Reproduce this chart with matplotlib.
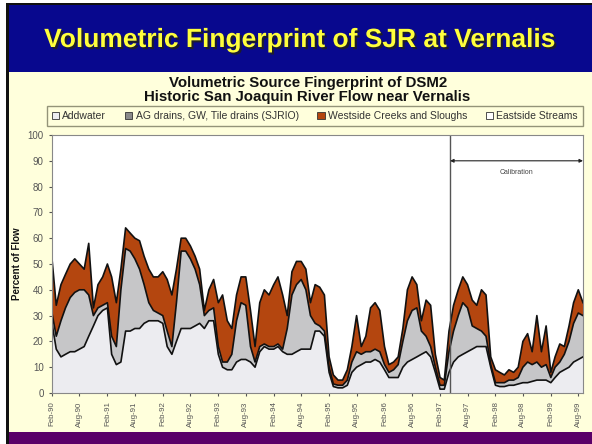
import numpy as np
import pandas as pd
import matplotlib.pyplot as plt
import matplotlib.dates as mdates
import matplotlib.patheffects as pe
from matplotlib.patches import Rectangle, Patch

plt.rcParams['font.family'] = ['Liberation Sans', 'DejaVu Sans']

# monthly values, Feb-1990 .. Sep-1999 (percent of flow)
months = pd.date_range('1990-02-01', '1999-09-01', freq='MS')

addwater = [27, 17, 14, 15, 16, 16, 17, 18, 22, 26, 30, 32,
            33, 15, 11, 12, 24, 24, 25, 25, 27, 28, 28, 28,
            27, 18, 15, 20, 25, 25, 25, 26, 27, 25, 28, 28,
            15, 10, 9, 9, 12, 13, 13, 12, 10, 16, 18, 17,
            17, 18, 16, 15, 15, 16, 17, 17, 17, 24, 24, 22,
            8, 2.5, 2, 2, 3, 8, 10, 11, 12, 12, 13, 12,
            9, 6, 6, 6, 10, 12, 13, 14, 15, 16, 14, 8,
            1.5, 1.5, 8, 12, 14, 15, 16, 17, 18, 18, 18, 10,
            3, 2.5, 2.5, 3, 3, 3.5, 4, 4, 4.5, 5, 5, 5,
            4, 6, 8, 9, 10, 12, 13, 14]
ag_drains = [4, 5, 14, 18, 21, 23, 23, 22, 16, 4, 3, 2,
             2, 7, 7, 28, 32, 31, 27, 23, 15, 7, 4, 3,
             3, 6, 3, 15, 30, 30, 27, 22, 15, 5, 4, 5,
             3, 2, 3, 6, 16, 22, 21, 6, 2, 2, 1, 1,
             1, 1, 1, 10, 23, 26, 27, 23, 13, 3, 2, 2,
             2, 1, 1, 1, 2, 4, 6, 4, 4, 4, 4, 4,
             2, 2, 3, 5, 10, 16, 19, 19, 9, 6, 4, 2,
             1.5, 1.5, 8, 12, 16, 20, 17, 9, 7, 6, 4, 1,
             1, 1.5, 1.5, 2, 2, 2.5, 6, 8, 6.5, 7, 5, 6,
             2, 4, 4, 6, 10, 15, 18, 16]
westside = [21, 12, 14, 13, 13, 13, 10, 8, 20, 3, 9, 11,
            15, 23, 17, 8, 8, 7, 8, 11, 11, 13, 13, 14,
            17, 20, 20, 13, 5, 5, 5, 5, 6, 2, 8, 11,
            17, 26, 16, 10, 10, 10, 11, 14, 6, 17, 21, 20,
            24, 26, 21, 5, 9, 9, 7, 8, 5, 15, 15, 14,
            4, 3.5, 2, 2, 4, 6, 14, 3, 6, 17, 18, 16,
            7, 3, 3, 3, 5, 12, 13, 9, 4, 14, 16, 5,
            3, 2, 8, 10, 10, 10, 9, 10, 9, 16, 16, 3,
            5, 4, 3, 4, 3, 4, 10, 11, 5, 18, 6, 15,
            2, 4, 7, 3, 6, 8, 9, 5]
eastside = [100 - a - b - c for a, b, c in zip(addwater, ag_drains, westside)]

labels = ['Addwater', 'AG drains, GW, Tile drains (SJRIO)',
          'Westside Creeks and Sloughs', 'Eastside Streams']
colors = ['#ececf0', '#c6c6c8', '#b4460f', '#ffffff']

W, H = 592, 444
fig = plt.figure(figsize=(W / 100, H / 100), dpi=100, facecolor='white')


def box(x0, y0, x1, y1, color):
    # rectangle given in pixel coords (y from top)
    fig.patches.append(Rectangle((x0 / W, 1 - y1 / H), (x1 - x0) / W, (y1 - y0) / H,
                                 transform=fig.transFigure, facecolor=color,
                                 edgecolor='none', zorder=-10))


box(6, 3, W, 72, '#08088e')
box(8, 72, W, 432, '#ffffdc')
box(8, 432, W, H, '#5a0068')
box(6, 3, W, 5, '#111111')
box(6, 3, 8.5, H, '#111111')

fig.text(300 / W, 1 - 40 / H, 'Volumetric Fingerprint of SJR at Vernalis',
         ha='center', va='center', fontsize=19, fontweight='bold', color='#ffff3c',
         path_effects=[pe.withSimplePatchShadow(offset=(1.5, -1.5),
                                                shadow_rgbFace='#202020', alpha=0.9)])

fig.text(308 / W, 1 - 83 / H, 'Volumetric Source Fingerprint of DSM2',
         ha='center', va='center', fontsize=10.8, fontweight='bold', color='#111111')
fig.text(307 / W, 1 - 97 / H, 'Historic San Joaquin River Flow near Vernalis',
         ha='center', va='center', fontsize=10.8, fontweight='bold', color='#111111')

ax = fig.add_axes([52 / W, 1 - 393 / H, (583 - 52) / W, (393 - 135) / H])
ax.set_facecolor('white')

# stacked layers: fills first, then the black boundary lines
layers = [addwater, ag_drains, westside, eastside]
bottom = np.zeros(len(months))
for vals, c in zip(layers, colors):
    top = bottom + np.array(vals, dtype=float)
    ax.fill_between(months, bottom, top, facecolor=c, edgecolor='none', linewidth=0)
    if c != colors[-1]:
        ax.plot(months, top, color='#111111', linewidth=1.2)
    bottom = top

ax.set_ylim(0, 100)
ax.set_yticks(range(0, 101, 10))
ax.set_xlim(months[0], months[-1])
ticks = [pd.Timestamp(f'{y}-{mm:02d}-01') for y in range(1990, 2000) for mm in (2, 8)]
ax.set_xticks(ticks)
ax.xaxis.set_major_formatter(mdates.DateFormatter('%b-%y'))
ax.tick_params(axis='x', labelrotation=90, labelsize=5.7, colors='#555555', length=2.5)
ax.tick_params(axis='y', labelsize=7, colors='#555555', length=2.5)
for s in ax.spines.values():
    s.set_color('#888888')
    s.set_linewidth(0.8)
ax.set_ylabel('Percent of Flow', fontsize=7, fontweight='bold', color='#111111', labelpad=4)

# calibration period
cal_start = pd.Timestamp('1997-04-08')
ax.axvline(cal_start, color='#555555', linewidth=1)
ax.annotate('', xy=(ax.get_xlim()[1], 90), xytext=(mdates.date2num(cal_start), 90),
            arrowprops=dict(arrowstyle='<|-|>', color='#222222', lw=0.8,
                            mutation_scale=5, shrinkA=0, shrinkB=0))
ax.text(mdates.date2num(pd.Timestamp('1998-06-20')), 85.5, 'Calibration',
        ha='center', va='center', fontsize=5, color='#444444')

handles = [Patch(facecolor=c, edgecolor='#333333', linewidth=0.6) for c in colors]
handles[1] = Patch(facecolor='#8a8a8a', edgecolor='#333333', linewidth=0.6)
leg = fig.legend(handles, labels, loc='center', ncol=4,
                 bbox_to_anchor=(315 / W, 1 - 116 / H),
                 fontsize=7.5, frameon=True, fancybox=False, handlelength=0.7,
                 handleheight=0.7, handletextpad=0.3, borderpad=0.45,
                 columnspacing=1.8)
leg.get_frame().set_facecolor('#ffffdc')
leg.get_frame().set_edgecolor('#7a7a60')
leg.get_frame().set_linewidth(1)
for t in leg.get_texts():
    t.set_color('#333333')

fig.savefig('out.png', dpi=100)
plt.close(fig)
